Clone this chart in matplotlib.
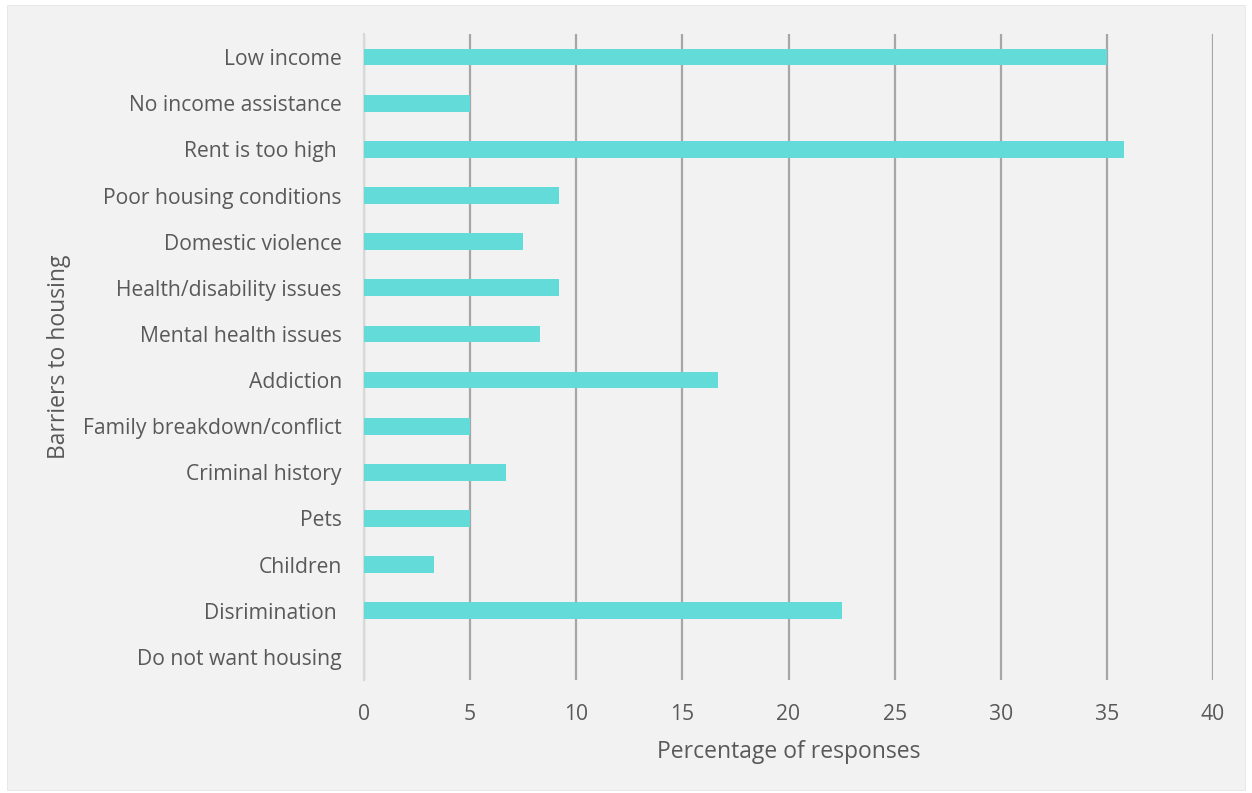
import numpy as np
import matplotlib.pyplot as plt
from matplotlib.patches import Rectangle

plt.rcParams['font.family'] = ['Open Sans', 'DejaVu Sans']

categories = ['Low income', 'No income assistance', 'Rent is too high ',
              'Poor housing conditions', 'Domestic violence',
              'Health/disability issues', 'Mental health issues', 'Addiction',
              'Family breakdown/conflict', 'Criminal history', 'Pets',
              'Children', 'Disrimination ', 'Do not want housing']
values = [35.0, 5.0, 35.8, 9.2, 7.5, 9.2, 8.3, 16.7, 5.0, 6.7, 5.0, 3.3, 22.5, 0.0]
xticks = [0, 5, 10, 15, 20, 25, 30, 35, 40]

text_col = '#595959'

fig = plt.figure(figsize=(12.52, 7.93), dpi=100, facecolor='white')
# grey chart area behind everything
fig.patches.append(Rectangle((7 / 1252, 3 / 793), 1238 / 1252, 785 / 793,
                             transform=fig.transFigure, facecolor='#F2F2F2',
                             edgecolor='#E6E6E6', linewidth=0.6, zorder=-10))

ax = fig.add_axes([364 / 1252, 1 - 680 / 793, (1213 - 364) / 1252, (680 - 34) / 793])
ax.set_facecolor('none')

y = np.arange(len(categories))
ax.barh(y, values, height=0.36, color='#63DBD8', zorder=3)

ax.set_xlim(0, 40)
ax.set_ylim(len(categories) - 0.5, -0.5)
ax.set_xticks(xticks)
ax.set_yticks(y)
ax.set_yticklabels(categories)

ax.grid(axis='x', color='#A6A6A6', linewidth=1.6, zorder=1)
ax.grid(axis='y', visible=False)
for s in ['top', 'right', 'bottom']:
    ax.spines[s].set_visible(False)
ax.spines['left'].set_color('#D9D9D9')
ax.spines['left'].set_linewidth(1.6)
ax.spines['left'].set_zorder(2)

ax.tick_params(axis='both', length=0, labelsize=15.2, labelcolor=text_col)
ax.tick_params(axis='x', pad=17)
ax.tick_params(axis='y', pad=16)

ax.set_xlabel('Percentage of responses', fontsize=16.5, color=text_col, labelpad=11)
ax.set_ylabel('Barriers to housing', fontsize=16.5, color=text_col, labelpad=9)

fig.savefig('out.png', dpi=100, facecolor='white')
